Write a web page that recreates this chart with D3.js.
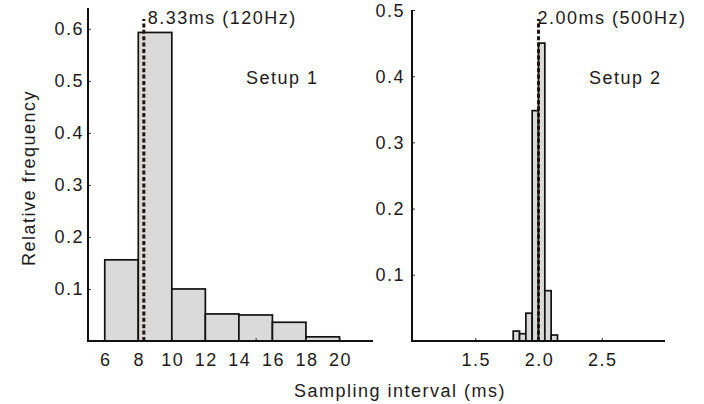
<!DOCTYPE html>
<html>
<head>
<meta charset="utf-8">
<script src="https://cdn.jsdelivr.net/npm/d3@7"></script>
<style>
  body { margin: 0; background: #fff; }
  svg text { font-family: "Liberation Sans", Arial, sans-serif; font-size: 18px; fill: #1e1a1a; letter-spacing: 1.5px; }
</style>
</head>
<body>
<svg id="chart" width="704" height="404"></svg>
<script>
// Setup 1 histogram (bin edges in ms, relative frequency per bin)
const setup1Edges = [6, 8, 10, 12, 14, 16, 18, 20];
const setup1Freq = [0.156, 0.593, 0.100, 0.052, 0.050, 0.036, 0.008];
const setup1Nominal = 8.33;
const setup1Label = "8.33ms (120Hz)";
const setup1XTicks = [6, 8, 10, 12, 14, 16, 18, 20];
const setup1XMarks = [10, 15, 20];
const setup1YTicks = [0.1, 0.2, 0.3, 0.4, 0.5, 0.6];

// Setup 2 histogram
const setup2Edges = [1.80, 1.85, 1.90, 1.95, 2.00, 2.05, 2.10, 2.15];
const setup2Freq = [0.015, 0.011, 0.042, 0.348, 0.450, 0.076, 0.009];
const setup2Nominal = 2.00;
const setup2Label = "2.00ms (500Hz)";
const setup2XTicks = [1.5, 2.0, 2.5];
const setup2YTicks = [0.1, 0.2, 0.3, 0.4, 0.5];

const svg = d3.select("#chart");
const baseY = 341;

function drawPanel(opt) {
  const g = svg.append("g");
  const x = d3.scaleLinear().domain(opt.xDomain).range(opt.xRange);
  const y = d3.scaleLinear().domain(opt.yDomain).range([baseY, opt.top]);

  const bins = opt.freq.map((f, i) => ({ x0: opt.edges[i], x1: opt.edges[i + 1], f }));

  g.selectAll(".bar")
    .data(bins)
    .enter()
    .append("rect")
    .attr("class", "bar")
    .attr("x", (d) => x(d.x0))
    .attr("width", (d) => x(d.x1) - x(d.x0))
    .attr("y", (d) => y(d.f))
    .attr("height", (d) => y(0) - y(d.f))
    .attr("fill", "#dadada")
    .attr("stroke", "#111")
    .attr("stroke-width", 1.7);

  // dashed nominal interval line
  g.append("line")
    .attr("x1", x(opt.nominal))
    .attr("x2", x(opt.nominal))
    .attr("y1", baseY)
    .attr("y2", 19)
    .attr("stroke", "#1e1412")
    .attr("stroke-width", 3)
    .attr("stroke-dasharray", "4,2.4");

  g.append("text")
    .attr("x", x(opt.nominal) + opt.labelDx)
    .attr("y", 24)
    .text(opt.label);

  // y axis
  const yAxis = d3.axisRight(y).tickValues(opt.yTicks).tickSize(3).tickFormat("");
  const ya = g.append("g").attr("transform", `translate(${opt.xRange[0]},0)`).call(yAxis);
  ya.select(".domain").remove();
  ya.selectAll("line").attr("stroke", "#333").attr("stroke-width", 1);
  g.append("line")
    .attr("x1", opt.xRange[0]).attr("x2", opt.xRange[0])
    .attr("y1", opt.top).attr("y2", baseY + 1)
    .attr("stroke", "#111").attr("stroke-width", 2);

  g.selectAll(".ylab")
    .data(opt.yTicks)
    .enter()
    .append("text")
    .attr("class", "ylab")
    .attr("x", opt.xRange[0] - opt.yLabelGap)
    .attr("y", (d) => y(d) + 6.5)
    .attr("text-anchor", "end")
    .text((d) => d3.format(".1f")(d));

  // x axis
  const xAxis = d3.axisTop(x).tickValues(opt.xMarks).tickSize(3).tickFormat("");
  const xa = g.append("g").attr("transform", `translate(0,${baseY})`).call(xAxis);
  xa.select(".domain").remove();
  xa.selectAll("line").attr("stroke", "#333").attr("stroke-width", 1);
  g.append("line")
    .attr("x1", opt.xRange[0] - 1).attr("x2", opt.xRange[1])
    .attr("y1", baseY).attr("y2", baseY)
    .attr("stroke", "#111").attr("stroke-width", 2);

  g.selectAll(".xlab")
    .data(opt.xTicks)
    .enter()
    .append("text")
    .attr("class", "xlab")
    .attr("x", (d) => x(d) + 1)
    .attr("y", 366)
    .attr("text-anchor", "middle")
    .text((d) => opt.xFormat(d));

  g.append("text")
    .attr("x", opt.setupX)
    .attr("y", 84)
    .text(opt.setup);
}

drawPanel({
  edges: setup1Edges, freq: setup1Freq, nominal: setup1Nominal, label: setup1Label,
  xDomain: [5, 22], xRange: [88, 373], yDomain: [0, 0.64], top: 8,
  xTicks: setup1XTicks, xMarks: setup1XMarks, yTicks: setup1YTicks,
  xFormat: d3.format("d"), yLabelGap: 4, labelDx: 4, setup: "Setup 1", setupX: 246
});

drawPanel({
  edges: setup2Edges, freq: setup2Freq, nominal: setup2Nominal, label: setup2Label,
  xDomain: [1, 3], xRange: [412, 665], yDomain: [0, 0.5], top: 10,
  xTicks: setup2XTicks, xMarks: setup2XTicks, yTicks: setup2YTicks,
  xFormat: d3.format(".1f"), yLabelGap: 7, labelDx: -1, setup: "Setup 2", setupX: 589
});

svg.append("text")
  .attr("transform", "translate(35,178) rotate(-90)")
  .attr("text-anchor", "middle")
  .text("Relative frequency");

svg.append("text")
  .attr("x", 400)
  .attr("y", 397)
  .attr("text-anchor", "middle")
  .text("Sampling interval (ms)");
</script>
</body>
</html>
